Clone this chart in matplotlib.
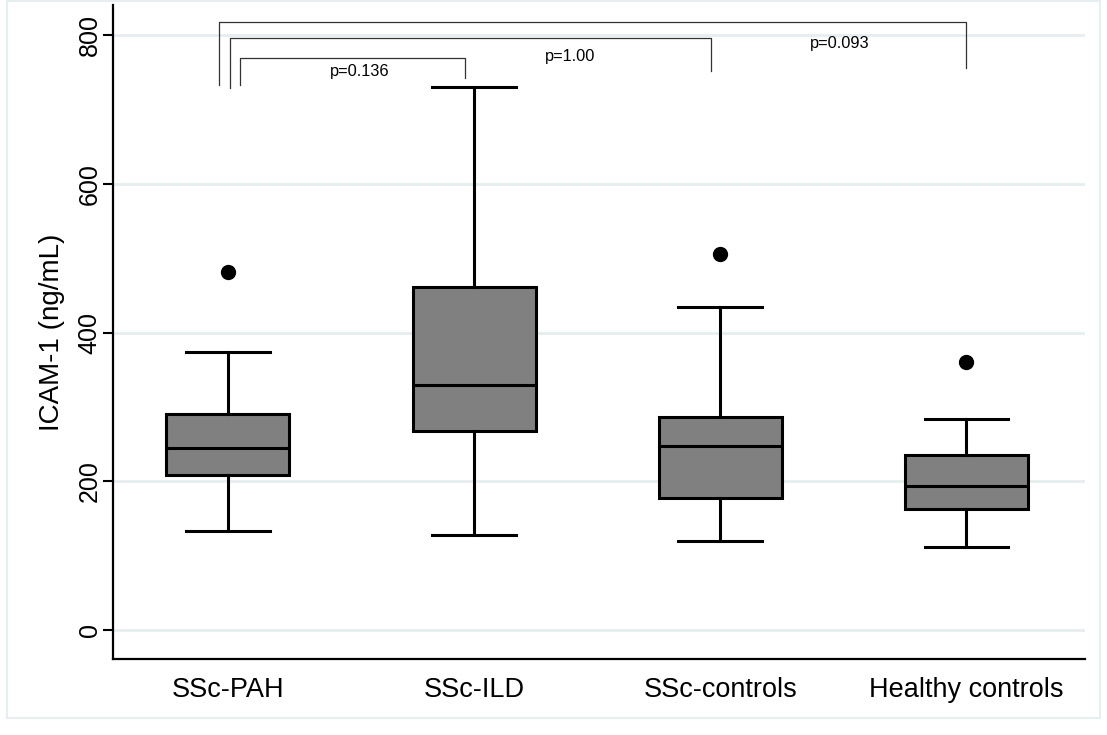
import matplotlib
matplotlib.use("Agg")
import matplotlib.pyplot as plt
from matplotlib.patches import Rectangle

groups = ["SSc-PAH", "SSc-ILD", "SSc-controls", "Healthy controls"]
whislo = [133, 128, 120, 112]
q1 = [209, 268, 178, 163]
med = [245, 329, 248, 194]
q3 = [290, 461, 287, 235]
whishi = [374, 730, 434, 284]
fliers = [[481], [], [505], [360]]

# comparisons against SSc-PAH
pairs = [(1, 2), (1, 3), (1, 4)]
pvals = ["p=0.136", "p=1.00", "p=0.093"]

plt.rcParams["font.family"] = ["Liberation Sans", "DejaVu Sans"]

fig = plt.figure(figsize=(11.07, 7.35), dpi=100)
fig.patches.append(Rectangle((0.006, 0.023), 0.988, 0.975, transform=fig.transFigure,
                             fill=False, edgecolor="#e6eef0", linewidth=1.5))
ax = fig.add_axes([0.102, 0.103, 0.878, 0.890])

stats = []
for i in range(len(groups)):
    stats.append(dict(label=groups[i], whislo=whislo[i], q1=q1[i], med=med[i],
                      q3=q3[i], whishi=whishi[i], fliers=fliers[i]))

pos = list(range(1, len(groups) + 1))
ax.bxp(stats, positions=pos, widths=0.5, capwidths=0.34, patch_artist=True,
       boxprops=dict(facecolor="#808080", edgecolor="black", linewidth=2.2),
       medianprops=dict(color="black", linewidth=2.2),
       whiskerprops=dict(color="black", linewidth=2.2),
       capprops=dict(color="black", linewidth=2.2),
       flierprops=dict(marker="o", markerfacecolor="black", markeredgecolor="black",
                       markersize=10))

# significance brackets: left leg x, top y, left leg bottom, right leg bottom, text pos
left_x = [1.05, 1.009, 0.965]
tops = [769, 796, 817]
left_bottom = [733, 728, 733]
right_bottom = [742, 751, 756]
text_xy = [(1.536, 751), (2.389, 771), (3.486, 789)]
for k, (a, b) in enumerate(pairs):
    xr = b - 0.037 if b < 4 else b
    ax.plot([left_x[k], left_x[k], xr, xr],
            [left_bottom[k], tops[k], tops[k], right_bottom[k]],
            color="#333333", linewidth=0.9, zorder=4)
    ax.text(text_xy[k][0], text_xy[k][1], pvals[k], ha="center", va="center",
            fontsize=11.8)

ax.set_xlim(0.533, 4.481)
ax.set_ylim(-39, 840)
ax.set_yticks([0, 200, 400, 600, 800])
ax.yaxis.grid(True, color="#e6eef0", linewidth=2)
ax.set_axisbelow(True)
ax.tick_params(axis="y", length=7, width=1.5, labelsize=18, pad=1)
for lab in ax.get_yticklabels():
    lab.set_rotation(90)
    lab.set_va("center")
ax.tick_params(axis="x", length=0, labelsize=19.5, pad=13)
ax.set_xticks(pos)
ax.set_xticklabels(groups)
ax.set_ylabel("ICAM-1 (ng/mL)", fontsize=20, labelpad=9)

ax.spines["top"].set_visible(False)
ax.spines["right"].set_visible(False)
ax.spines["left"].set_linewidth(1.6)
ax.spines["bottom"].set_linewidth(1.6)

fig.savefig("out.png", dpi=100)
